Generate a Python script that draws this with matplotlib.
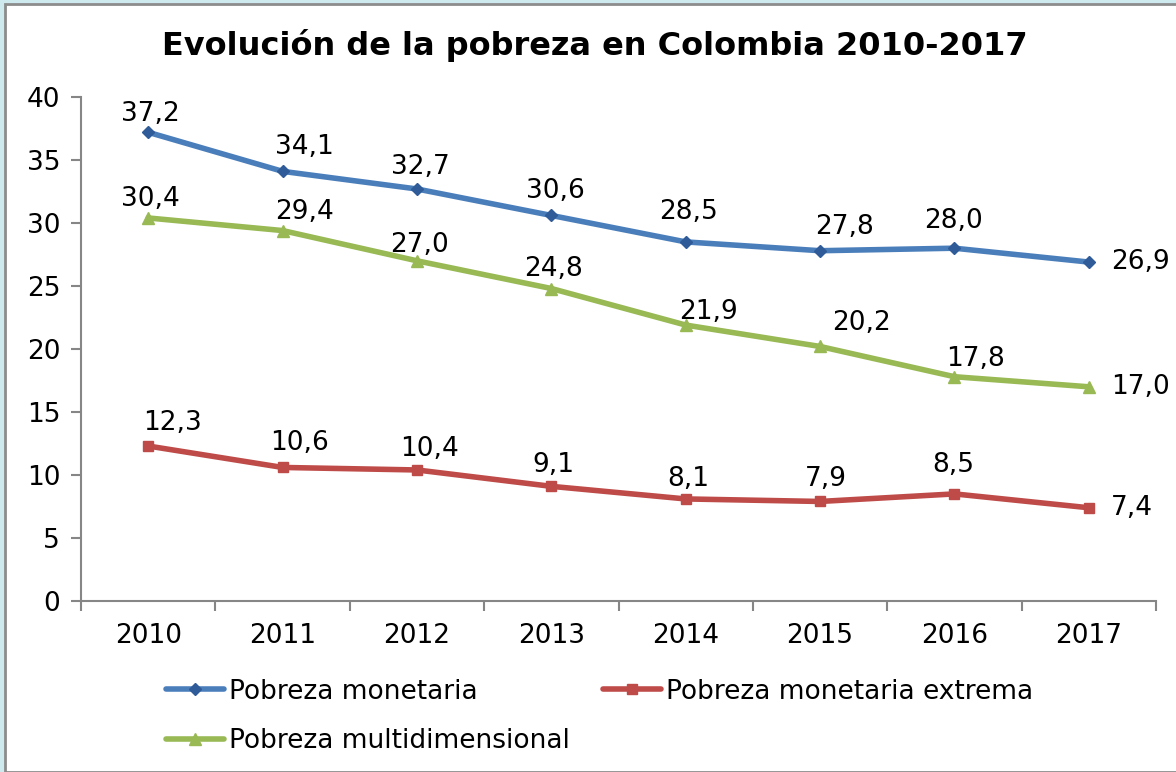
import matplotlib.pyplot as plt
from matplotlib.patches import Rectangle

years = ["2010", "2011", "2012", "2013", "2014", "2015", "2016", "2017"]
monetaria = [37.2, 34.1, 32.7, 30.6, 28.5, 27.8, 28.0, 26.9]
extrema = [12.3, 10.6, 10.4, 9.1, 8.1, 7.9, 8.5, 7.4]
multidim = [30.4, 29.4, 27.0, 24.8, 21.9, 20.2, 17.8, 17.0]

# label offsets in pixels (dx, dy) from each marker
off_mon = [(2, 18), (22, 24), (3, 22), (4, 24), (3, 30), (24, 24), (-1, 27), (22, 0)]
off_ext = [(24, 23), (17, 24), (13, 21), (2, 21), (3, 20), (6, 22), (-1, 29), (22, 0)]
off_mul = [(2, 19), (22, 19), (3, 16), (2, 20), (23, 13), (41, 23), (21, 18), (22, 0)]

plt.rcParams["font.family"] = "DejaVu Sans"

fig = plt.figure(figsize=(11.76, 7.72), dpi=100)
fig.patch.set_facecolor("#cfeaee")
fig.patches.append(Rectangle((5 / 1176, 0), 1.0, 1 - 4 / 772, transform=fig.transFigure,
                             facecolor="white", edgecolor="#8c8c8c", linewidth=2.0, zorder=0))

ax = fig.add_axes([81 / 1176, 1 - 601 / 772, (1156 - 81) / 1176, (601 - 97) / 772])
ax.set_facecolor("none")
ax.set_zorder(2)

x = list(range(len(years)))
l1, = ax.plot(x, monetaria, color="#4A7EBB", lw=4, marker="D", ms=6.5,
              mfc="#2F5C99", mec="#2F5C99", solid_capstyle="round", label="Pobreza monetaria")
l2, = ax.plot(x, extrema, color="#BE4B48", lw=4, marker="s", ms=7.5,
              mfc="#BE4B48", mec="#BE4B48", solid_capstyle="round", label="Pobreza monetaria extrema")
l3, = ax.plot(x, multidim, color="#98B954", lw=4, marker="^", ms=8.5,
              mfc="#98B954", mec="#98B954", solid_capstyle="round", label="Pobreza multidimensional")

for vals, offs in [(monetaria, off_mon), (extrema, off_ext), (multidim, off_mul)]:
    for i, v in enumerate(vals):
        dx, dy = offs[i]
        ha = "left" if i == len(vals) - 1 else "center"
        ax.annotate(f"{v:.1f}".replace(".", ","), (i, v), xytext=(dx, dy),
                    textcoords="offset pixels", ha=ha, va="center", fontsize=19, color="black")

ax.set_xlim(-0.5, len(years) - 0.5)
ax.set_ylim(0, 40)
ax.set_yticks(range(0, 41, 5))
ax.set_xticks(x)
ax.set_xticklabels(years)
ax.set_xticks([i - 0.5 for i in range(len(years) + 1)], minor=True)
ax.tick_params(axis="x", which="major", length=0, pad=16, labelsize=19)
ax.tick_params(axis="x", which="minor", length=7, color="#868686", width=1.5)
ax.tick_params(axis="y", length=7, color="#868686", width=1.5, labelsize=19, pad=8)
for s in ["top", "right"]:
    ax.spines[s].set_visible(False)
for s in ["left", "bottom"]:
    ax.spines[s].set_color("#868686")
    ax.spines[s].set_linewidth(1.5)

fig.text(595 / 1176, 1 - 45 / 772, "Evolución de la pobreza en Colombia 2010-2017",
         ha="center", va="center", fontsize=23, fontweight="bold")

fig.legend([l1, l3, l2], [l1.get_label(), l3.get_label(), l2.get_label()],
           ncol=2, frameon=False, fontsize=19, loc="upper left",
           bbox_to_anchor=(155 / 1176, 1 - 668 / 772), handlelength=2.2,
           handletextpad=0.2, columnspacing=1.25, labelspacing=0.9, borderaxespad=0)

fig.savefig("out.png", dpi=100)
